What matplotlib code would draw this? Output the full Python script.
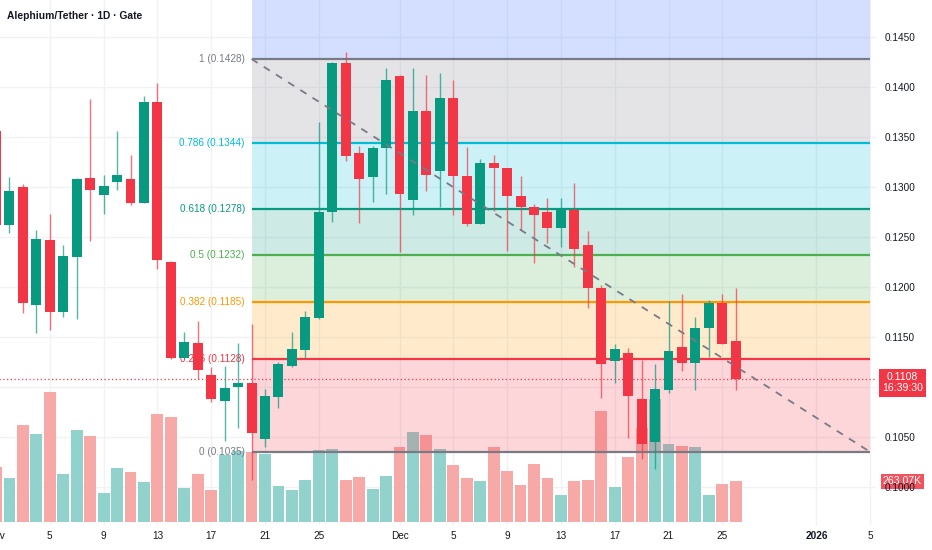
import matplotlib
matplotlib.use('Agg')
import matplotlib.pyplot as plt
from matplotlib.transforms import blended_transform_factory
import numpy as np

plt.rcParams['font.family'] = ['Liberation Sans', 'DejaVu Sans']

title = "Alephium/Tether · 1D · Gate"

# Daily candles, Nov 1 .. Dec 26 (day index 0 = Nov 1)
opens = [0.1356, 0.1262, 0.1300, 0.1182, 0.1247, 0.1175, 0.1230, 0.1309, 0.1292, 0.1305,
         0.1308, 0.1284, 0.1385, 0.1225, 0.1129, 0.1144, 0.1112, 0.1086, 0.1100, 0.1104,
         0.1048, 0.1090, 0.1121, 0.1137, 0.1169, 0.1275, 0.1424, 0.1334, 0.1310, 0.1339,
         0.1411, 0.1287, 0.1376, 0.1316, 0.1389, 0.1311, 0.1263, 0.1324, 0.1319, 0.1291,
         0.1280, 0.1275, 0.1259, 0.1277, 0.1242, 0.1199, 0.1126, 0.1134, 0.1088, 0.1045,
         0.1097, 0.1140, 0.1124, 0.1159, 0.1184, 0.1146]
highs = [0.1362, 0.1310, 0.1303, 0.1257, 0.1273, 0.1242, 0.1309, 0.1388, 0.1312, 0.1356,
         0.1332, 0.1391, 0.1404, 0.1226, 0.1155, 0.1166, 0.1120, 0.1121, 0.1144, 0.1163,
         0.1098, 0.1125, 0.1155, 0.1176, 0.1365, 0.1425, 0.1435, 0.1341, 0.1341, 0.1419,
         0.1412, 0.1419, 0.1412, 0.1414, 0.1407, 0.1340, 0.1328, 0.1332, 0.1319, 0.1311,
         0.1283, 0.1289, 0.1289, 0.1304, 0.1256, 0.1202, 0.1143, 0.1139, 0.1127, 0.1123,
         0.1186, 0.1193, 0.1170, 0.1187, 0.1193, 0.1199]
lows = [0.1258, 0.1254, 0.1174, 0.1154, 0.1157, 0.1170, 0.1168, 0.1246, 0.1273, 0.1297,
        0.1282, 0.1284, 0.1218, 0.1128, 0.1128, 0.1108, 0.1085, 0.1046, 0.1059, 0.1007,
        0.1040, 0.1079, 0.1120, 0.1129, 0.1168, 0.1265, 0.1326, 0.1264, 0.1285, 0.1293,
        0.1235, 0.1272, 0.1296, 0.1280, 0.1272, 0.1261, 0.1263, 0.1276, 0.1236, 0.1257,
        0.1224, 0.1244, 0.1240, 0.1220, 0.1179, 0.1089, 0.1104, 0.1049, 0.1028, 0.1018,
        0.1094, 0.1116, 0.1097, 0.1130, 0.1143, 0.1097]
closes = [0.1262, 0.1296, 0.1184, 0.1248, 0.1175, 0.1231, 0.1308, 0.1297, 0.1301, 0.1312,
          0.1284, 0.1385, 0.1227, 0.1129, 0.1145, 0.1117, 0.1088, 0.1099, 0.1104, 0.1054,
          0.1091, 0.1123, 0.1138, 0.1170, 0.1275, 0.1424, 0.1331, 0.1308, 0.1339, 0.1407,
          0.1293, 0.1376, 0.1312, 0.1389, 0.1311, 0.1263, 0.1324, 0.1319, 0.1291, 0.1280,
          0.1272, 0.1259, 0.1277, 0.1238, 0.1199, 0.1123, 0.1138, 0.1091, 0.1043, 0.1098,
          0.1136, 0.1124, 0.1159, 0.1184, 0.1143, 0.1108]
volumes_k = [352, 278, 620, 561, 826, 308, 586, 548, 187, 342, 319, 255, 688, 667, 215, 308,
             204, 427, 452, 446, 433, 231, 204, 268, 459, 463, 268, 285, 212, 295, 478, 571,
             554, 467, 365, 282, 259, 478, 323, 238, 371, 282, 172, 263, 268, 707, 223, 414,
             597, 782, 495, 486, 478, 170, 244, 263.07]

# x tick labels (day index -> label)
tick_days = [0, 4, 8, 12, 16, 20, 24, 30, 34, 38, 42, 46, 50, 54, 61, 65]
tick_labels = ["Nov", "5", "9", "13", "17", "21", "25", "Dec", "5", "9", "13", "17",
               "21", "25", "2026", "5"]
price_ticks = [0.1000, 0.1050, 0.1100, 0.1150, 0.1200, 0.1250, 0.1300, 0.1350, 0.1400, 0.1450]
price_tick_labels = ["0.1000", "0.1050", "", "0.1150", "0.1200", "0.1250", "0.1300",
                     "0.1350", "0.1400", "0.1450"]

# Fibonacci retracement
fib_ratios = [0, 0.236, 0.382, 0.5, 0.618, 0.786, 1, 1.618]
fib_prices = [0.1035, 0.1128, 0.1185, 0.1232, 0.1278, 0.1344, 0.1428, 0.1671]
fib_colors = ['#787b86', '#f23645', '#ff9800', '#4caf50', '#089981', '#00bcd4', '#787b86', '#2962ff']
fib_start_day = 19
fib_end_day = 65
last_price_label = "0.1108"
countdown = "16:39:30"
last_volume_label = "263.07K"

UP = '#089981'
DOWN = '#f23645'
UP_VOL = '#92d2cc'
DOWN_VOL = '#f7a9a7'
GRID = '#f0f2f5'
TXT = '#131722'

W, H = 932, 550
fig = plt.figure(figsize=(W / 100, H / 100), dpi=100)
fig.patch.set_facecolor('white')

ax_left_px, ax_right_px, ax_bottom_px = -10, 876, 525
ax_vol = fig.add_axes([ax_left_px / W, (H - ax_bottom_px) / H,
                       (ax_right_px - ax_left_px) / W, ax_bottom_px / H])
ax = ax_vol.twinx()
ax.patch.set_visible(False)

px_per_day = 13.45
ax_vol.set_xlim(-(-ax_left_px - 4) / px_per_day, (ax_right_px + 4) / px_per_day)
ax.set_ylim(0.0962, 0.1487)
ax_vol.set_ylim(-19, 3325)

days = np.arange(len(opens))
o = np.array(opens); h = np.array(highs); l = np.array(lows); c = np.array(closes)
up = c >= o

# grid (in the bottom axes)
for d in tick_days:
    ax_vol.axvline(d, color=GRID, lw=1, zorder=0)
bt = blended_transform_factory(ax_vol.transAxes, ax.transData)
for p in price_ticks:
    ax_vol.plot([0, 1], [p, p], transform=bt, color=GRID, lw=1, zorder=0)

# volume
ax_vol.bar(days, volumes_k, width=0.88, color=[UP_VOL if u else DOWN_VOL for u in up],
           zorder=1)
ax_vol.set_yticks([])

# fib bands and lines
for k in range(1, len(fib_prices)):
    ax.fill_between([fib_start_day, fib_end_day], fib_prices[k - 1], fib_prices[k],
                    color=fib_colors[k], alpha=0.2, lw=0, zorder=1)
for k in range(len(fib_prices) - 1):
    ax.plot([fib_start_day, fib_end_day], [fib_prices[k]] * 2, color=fib_colors[k],
            lw=1.6, zorder=2, solid_capstyle='butt')
    ax.text(fib_start_day - 0.5, fib_prices[k], f"{fib_ratios[k]:g} ({fib_prices[k]:.4f})",
            ha='right', va='center', color=fib_colors[k], fontsize=7.2, zorder=3)

# candles
ax.vlines(days, l, h, colors=[UP if u else DOWN for u in up], lw=1, alpha=0.7, zorder=5)
body_lo = np.minimum(o, c)
body_h = np.maximum(np.abs(c - o), 0.00012)
ax.bar(days, body_h, bottom=body_lo, width=0.74, color=[UP if u else DOWN for u in up],
       zorder=6, lw=0)

# trend line of fib
ax.plot([fib_start_day, fib_end_day], [fib_prices[6], fib_prices[0]], color='#787b86',
        lw=1.3, ls=(0, (4, 4)), zorder=7)

# current price line
ax.axhline(closes[-1], color=DOWN, lw=0.9, ls=(0, (1, 2)), zorder=4)

# axes styling
for a in (ax, ax_vol):
    for s in a.spines.values():
        s.set_visible(False)
ax.set_yticks(price_ticks)
ax.set_yticklabels(price_tick_labels)
ax.tick_params(axis='y', length=0, pad=6.5, labelsize=7.2, labelcolor=TXT)
ax_vol.set_xticks(tick_days)
ax_vol.set_xticklabels(tick_labels)
ax_vol.tick_params(axis='x', length=0, pad=4, labelsize=7.2, labelcolor=TXT)
for lab in ax_vol.get_xticklabels():
    if lab.get_text() == "2026":
        lab.set_fontweight('bold')

# right-side labels
ax.annotate(f"{last_price_label}\n{countdown}", xy=(1, closes[-1]),
            xycoords=('axes fraction', 'data'), textcoords='offset points',
            xytext=(19, 4.8), ha='center', va='top', color='white', fontsize=7.6,
            linespacing=1.1, annotation_clip=False, zorder=10,
            bbox=dict(boxstyle='square,pad=0.32', fc=DOWN, ec='none'))
ax_vol.annotate(last_volume_label, xy=(1, volumes_k[-1]),
                xycoords=('axes fraction', 'data'), textcoords='offset points',
                xytext=(19, -0.5), ha='center', va='center', color='white', fontsize=7.6,
                annotation_clip=False, zorder=10,
                bbox=dict(boxstyle='square,pad=0.22', fc='#f0545f', ec='none'))

fig.text(7 / W, 1 - 16 / H, title, ha='left', va='center', fontsize=7.4,
         fontweight='bold', color=TXT)

fig.savefig('out.png', dpi=100)
